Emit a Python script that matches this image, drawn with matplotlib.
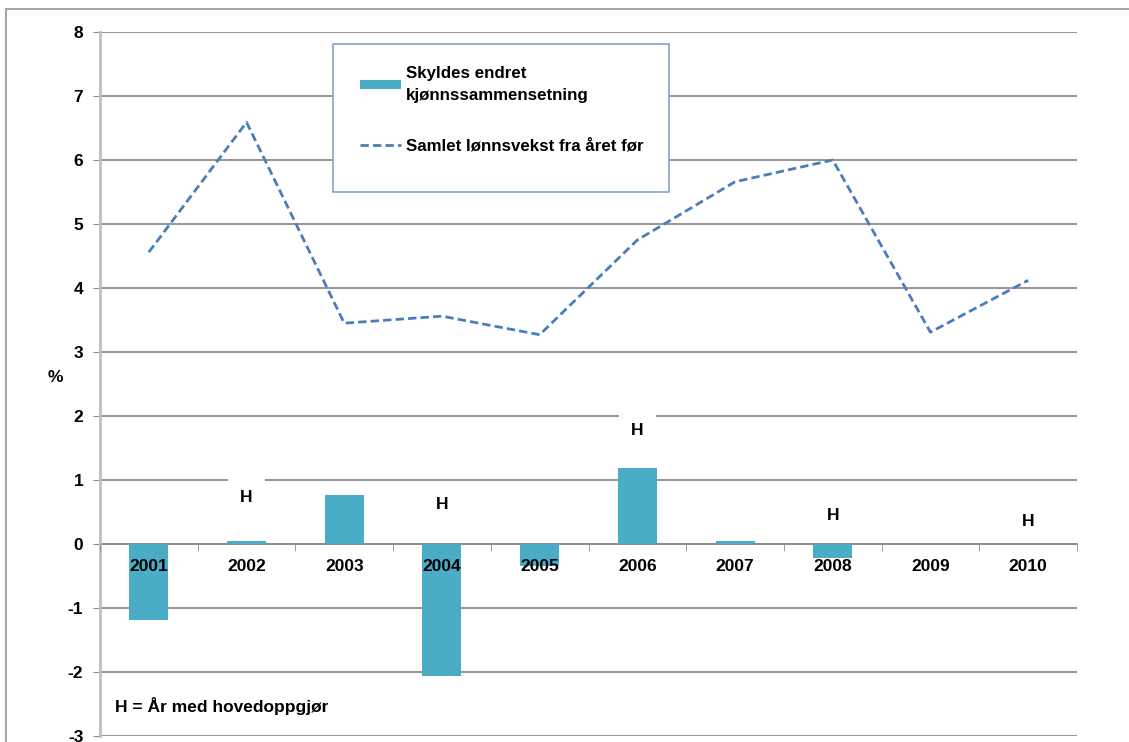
import matplotlib.pyplot as plt
from matplotlib.lines import Line2D
from matplotlib.patches import Rectangle

plt.rcParams['font.family'] = ['Liberation Sans', 'DejaVu Sans']
plt.rcParams['font.weight'] = 'bold'
plt.rcParams['axes.unicode_minus'] = False

# data
years = ["2001", "2002", "2003", "2004", "2005", "2006", "2007", "2008", "2009", "2010"]
kjonn = [-1.19, 0.05, 0.76, -2.06, -0.35, 1.18, 0.05, -0.22, 0.0, 0.0]
lonnsvekst = [4.56, 6.59, 3.45, 3.56, 3.27, 4.75, 5.66, 6.0, 3.31, 4.12]
h_years = ["2002", "2004", "2006", "2008", "2010"]
h_pos = [0.72, 0.62, 1.78, 0.44, 0.35]

bar_color = "#4BACC6"
line_color = "#4A7EBB"
grid_color = "#8C8C8C"

fig = plt.figure(figsize=(11.29, 7.42), dpi=100)
ax = fig.add_axes([100 / 1129, 1 - 736 / 742, 977 / 1129, 704 / 742])

x = list(range(len(years)))
bars = ax.bar(x, kjonn, width=0.4, color=bar_color, zorder=3,
              label="Skyldes endret\nkjønnssammensetning")
line, = ax.plot(x, lonnsvekst, color=line_color, lw=2, ls=(0, (3, 1.5)), zorder=4,
                label="Samlet lønnsvekst fra året før")

ax.set_xlim(-0.5, len(years) - 0.5)
ax.set_ylim(-3, 8)
ax.set_yticks(range(-3, 9))
ax.yaxis.grid(True, color=grid_color, lw=1.3)
ax.yaxis.set_zorder(0.5)
ax.xaxis.set_zorder(5)

for s in ["top", "right"]:
    ax.spines[s].set_visible(False)
ax.spines["left"].set_color("#BFBFBF")
ax.spines["left"].set_linewidth(2)
ax.spines["bottom"].set_position(("data", 0))
ax.spines["bottom"].set_color(grid_color)
ax.spines["bottom"].set_linewidth(1.3)
ax.spines["bottom"].set_zorder(2)

ax.set_xticks(x)
ax.set_xticklabels(years)
ax.set_xticks([i - 0.5 for i in range(len(years) + 1)], minor=True)
ax.tick_params(axis="x", which="major", length=0, pad=11, labelsize=12.5)
ax.tick_params(axis="x", which="minor", length=5, color=grid_color, direction="out")
ax.tick_params(axis="y", length=5, color=grid_color, labelsize=12.5, pad=7)
for t in ax.get_xticklabels() + ax.get_yticklabels():
    t.set_fontweight("bold")

ax.set_ylabel("%", rotation=0, fontsize=12.5, fontweight="bold")
ax.yaxis.set_label_coords(-0.046, 0.499)

for yr, yp in zip(h_years, h_pos):
    ax.text(years.index(yr), yp, "H", ha="center", va="center", fontsize=12.5,
            fontweight="bold", zorder=5,
            bbox=dict(facecolor="white", edgecolor="none", pad=9))

ax.text(0.0154, 0.0426, "H = År med hovedoppgjør", transform=ax.transAxes,
        ha="left", va="center", fontsize=12.5, fontweight="bold")

# legend box
ax.add_patch(Rectangle((0.2385, (736 - 192) / 704), 0.344, 148 / 704,
                       transform=ax.transAxes, facecolor="white",
                       edgecolor="#7FA3D6", lw=1.2, zorder=6))
leg = ax.legend(handles=[bars, line], loc="upper left",
                bbox_to_anchor=(0.2661, (736 - 66) / 704),
                fontsize=12.2, frameon=False, borderpad=0, labelspacing=2.1,
                handlelength=2.4, handleheight=0.5, handletextpad=0.3,
                borderaxespad=0)
leg.set_zorder(7)
for t in leg.get_texts():
    t.set_fontweight("bold")
    t.set_linespacing(1.6)

# outer chart border
fig.add_artist(Line2D([6 / 1129, 6 / 1129], [0, 1 - 9 / 742], color="#A6A6A6", lw=1.5,
                      transform=fig.transFigure))
fig.add_artist(Line2D([6 / 1129, 1], [1 - 9 / 742, 1 - 9 / 742], color="#A6A6A6", lw=1.5,
                      transform=fig.transFigure))

fig.savefig("out.png", dpi=100)
